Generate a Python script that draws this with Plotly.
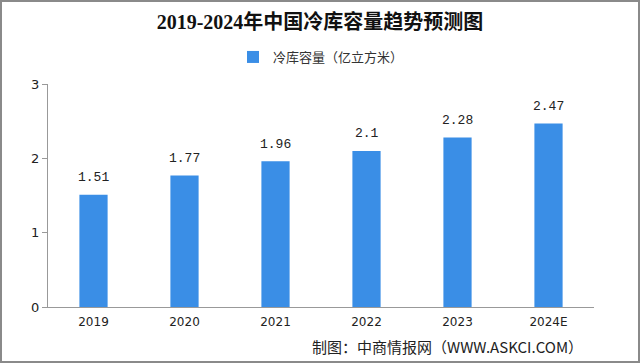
import plotly.graph_objects as go

years = ["2019", "2020", "2021", "2022", "2023", "2024E"]
capacity = [1.51, 1.77, 1.96, 2.1, 2.28, 2.47]
value_labels = ["1.51", "1.77", "1.96", "2.1", "2.28", "2.47"]
tick_vals = [0, 1, 2, 3]

W, H = 640, 363
ML, MR, MT, MB = 48, 46, 84, 56
PW, PH = W - ML - MR, H - MT - MB

fig = go.Figure()
fig.add_trace(go.Bar(
    x=years, y=capacity, name="冷库容量（亿立方米）",
    marker=dict(color="#3a8ee6", line=dict(width=0)),
    width=0.31,
    cliponaxis=False,
))

for i, (v, lab) in enumerate(zip(capacity, value_labels)):
    fig.add_annotation(x=i, y=v, xref="x", yref="y", text=lab, showarrow=False,
                       yanchor="middle", yshift=17,
                       font=dict(family="Liberation Mono, DejaVu Sans Mono", size=13, color="#222"))

fig.update_layout(
    width=W, height=H,
    margin=dict(l=ML, r=MR, t=MT, b=MB, autoexpand=False),
    paper_bgcolor="white", plot_bgcolor="white",
    title=dict(text="<b>2019-2024年中国冷库容量趋势预测图</b>", x=0.5, xanchor="center",
               y=1 - 22 / H, yanchor="middle",
               font=dict(family="Liberation Serif, Noto Sans CJK SC", size=20, color="#111")),
    legend=dict(orientation="h", x=0.5, xanchor="center", y=(307 - 57) / PH, yanchor="middle",
                font=dict(family="Noto Sans CJK SC", size=13, color="#333"),
                itemsizing="constant"),
    showlegend=True,
    bargap=0.69,
    font=dict(family="Noto Sans CJK SC", color="#333"),
)
fig.update_xaxes(type="category", categoryorder="array", categoryarray=years,
                 range=[-0.5, len(years) - 0.5],
                 showline=True, linecolor="#999", linewidth=1, ticks="outside", ticklen=4,
                 tickcolor="rgba(0,0,0,0)",
                 tickfont=dict(family="DejaVu Sans, Noto Sans CJK SC", size=12, color="#222"))
fig.update_yaxes(range=[0, 3], tickvals=tick_vals, showgrid=False, zeroline=False,
                 showline=True, linecolor="#999", linewidth=1, ticks="outside",
                 ticklen=5, tickcolor="#999",
                 tickfont=dict(family="DejaVu Sans, Noto Sans CJK SC", size=13, color="#222"))

fig.add_annotation(text="制图：中商情报网（WWW.ASKCI.COM）", xref="paper", yref="paper",
                   x=(585 - ML) / PW, y=(307 - 346) / PH, xanchor="right", yanchor="middle",
                   showarrow=False,
                   font=dict(family="Noto Sans CJK SC", size=15, color="#222"))

# image frame
fig.add_shape(type="rect", xref="paper", yref="paper",
              x0=(1 - ML) / PW, x1=(W - 1 - ML) / PW,
              y0=-(MB - 1) / PH, y1=1 + (MT - 1) / PH,
              line=dict(color="#8a8a8a", width=2), layer="below")

fig.write_html("out.html", config={"displayModeBar": False},
               post_script="document.body.style.margin='0';document.body.style.overflow='hidden';")
